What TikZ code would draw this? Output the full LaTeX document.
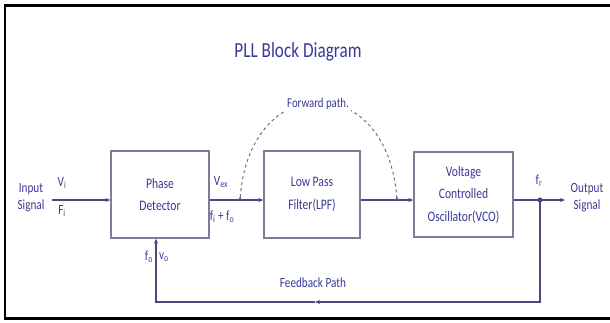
\documentclass[tikz,border=0pt]{standalone}
\usepackage{fontspec}
\setmainfont{Carlito}[FakeStretch=0.8]
\usepackage{tikz}
\usetikzlibrary{calc}
\usetikzlibrary{positioning}
\usetikzlibrary{arrows.meta}

\definecolor{txtblue}{RGB}{58,58,150}
\definecolor{linenavy}{RGB}{72,72,132}
\definecolor{boxgray}{RGB}{125,125,150}

\begin{document}
\begin{tikzpicture}[
        x=1pt, y=1pt,
        every node/.style={text=txtblue, font=\fontsize{14}{17}\selectfont},
        block/.style={draw=boxgray, line width=1.3pt, fill=white, align=center,
                      font=\fontsize{14.5}{22.5}\selectfont},
        lbl/.style={inner sep=0pt},
        sig/.style={draw=linenavy, line width=1.3pt},
        tip/.style={-{Stealth[length=5pt,width=4pt]}}]

        \useasboundingbox (0,0) rectangle (610,-322);
        \draw[black, line width=2.5pt] (615,-5.5) -- (5,-5.5) -- (5,-318.5) -- (615,-318.5);

        \node (title) at (298,-52) {\fontsize{21.5}{24}\selectfont PLL Block Diagram};

        \node[block, minimum width=98pt, minimum height=87pt] (PD) at (160,-194.5) {Phase\\Detector};
        \node[block, minimum width=96pt, minimum height=87pt] (LPF) at (312,-194.5) {Low Pass\\Filter(LPF)};
        \node[block, minimum width=99pt, minimum height=85pt] (VCO) at (463.5,-194.5) {Voltage\\Controlled\\Oscillator(VCO)};

        \node[lbl, align=center] (In) at (31,-198) {Input\\Signal};
        \node[lbl, align=center] (Out) at (587,-198) {Output\\Signal};

        \coordinate (sy) at (0,-200);
        \coordinate (inL) at (52,-200);
        \coordinate (outR) at (565,-200);
        \coordinate (tap) at (540,-200);
        \coordinate (fbR) at (540,-302);
        \coordinate (fbM) at (315,-302);
        \coordinate (fbL) at (156,-302);
        \coordinate (fwdA) at (240,-200);
        \coordinate (fwdB) at (397,-200);

        % forward signal path
        \draw[sig, tip] (inL) -- (inL -| PD.west);
        \draw[sig, tip] (PD.east |- sy) -- (LPF.west |- sy);
        \draw[sig, tip] (LPF.east |- sy) -- (VCO.west |- sy);
        \draw[sig, tip] (VCO.east |- sy) -- (outR);
        \fill[linenavy] (tap) circle (2.6pt);

        % feedback loop
        \draw[sig, tip] (tap) -- (fbR) -- (fbM);
        \draw[sig, tip] (fbM) -- (fbL) -- (fbL |- PD.south);

        % forward path arc
        \draw[draw=gray!70!linenavy, line width=1pt, dashed,
              {Stealth[reversed,length=4pt,width=3.5pt]}-{Stealth[reversed,length=4pt,width=3.5pt]}]
              (fwdA) .. controls (250,-70) and (387,-70) .. (fwdB);
        \node[lbl, fill=white, inner sep=2pt, font=\fontsize{13.5}{15}\selectfont] (Fwd) at (318,-104) {Forward path.};

        % signal labels
        \node[lbl] (Vi) at (62,-183) {V\textsubscript{i}};
        \node[lbl] (Fi) at (62,-211) {F\textsubscript{i}};
        \node[lbl] (Vex) at (221,-182) {V\textsubscript{ex}};
        \node[lbl] (Fsum) at (222,-217) {f\textsubscript{i} + f\textsubscript{o}};
        \node[lbl] (Fr) at (539,-181) {f\textsubscript{r}};
        \node[lbl] (Fo) at (149,-257) {f\textsubscript{o}};
        \node[lbl] (Vo) at (164,-257) {v\textsubscript{o}};
        \node[lbl] (FB) at (313,-283) {Feedback Path};

    \end{tikzpicture}
\end{document}
